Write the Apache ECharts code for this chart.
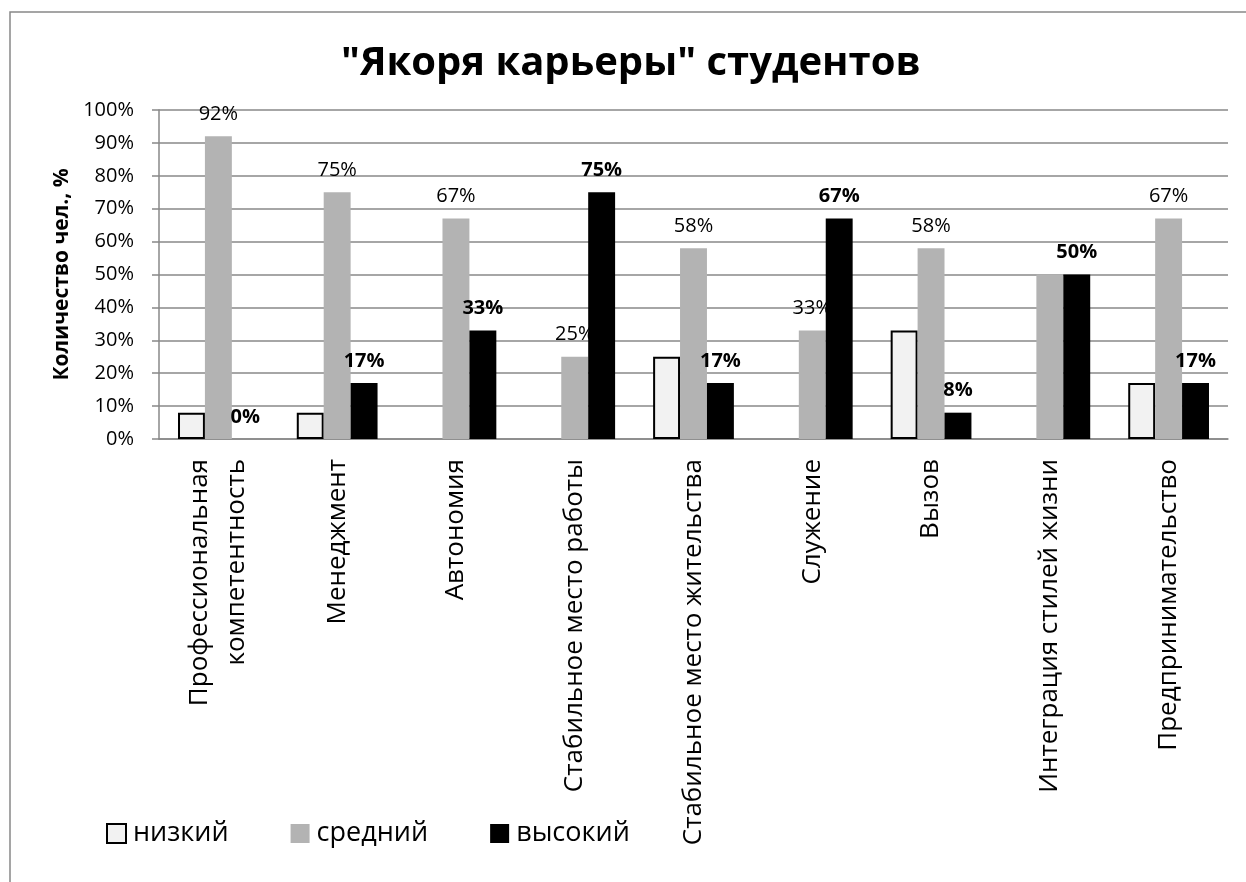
<!DOCTYPE html>
<html>
<head>
<meta charset="utf-8">
<script src="https://cdn.jsdelivr.net/npm/echarts@6/dist/echarts.min.js"></script>
<style>
  html, body { margin: 0; padding: 0; background: #fff; }
  #chart { width: 1246px; height: 882px; }
</style>
</head>
<body>
<div id="chart"></div>
<script>
const categories = [
  'Профессиональная\nкомпетентность',
  'Менеджмент',
  'Автономия',
  'Стабильное место работы',
  'Стабильное место жительства',
  'Служение',
  'Вызов',
  'Интеграция стилей жизни',
  'Предпринимательство'
];
const seriesNames = ['низкий', 'средний', 'высокий'];
const lowValues = [8, 8, 0, 0, 25, 0, 33, 0, 17];
const midValues = [92, 75, 67, 25, 58, 33, 58, 50, 67];
const highValues = [0, 17, 33, 75, 17, 67, 8, 50, 17];
const hiddenMidLabels = [7];
const yTicks = { min: 0, max: 100, interval: 10 };

const FONT = 'Open Sans';
const chart = echarts.init(document.getElementById('chart'));

const lowData = lowValues.map(v => v === 0
  ? { value: v, itemStyle: { borderWidth: 0 } } : v);
const midData = midValues.map((v, i) => hiddenMidLabels.includes(i)
  ? { value: v, label: { show: false } } : v);

chart.setOption({
  backgroundColor: '#ffffff',
  animation: false,
  textStyle: { fontFamily: FONT, color: '#000' },
  graphic: [{
    type: 'rect',
    shape: { x: 10, y: 12, width: 1400, height: 1000 },
    style: { fill: 'none', stroke: '#888', lineWidth: 1.5 },
    silent: true,
    z: -10
  }],
  title: {
    text: '"Якоря карьеры" студентов',
    left: 336,
    top: 39,
    textStyle: { fontFamily: FONT, fontSize: 40, fontWeight: 'bold', color: '#000' }
  },
  legend: {
    data: seriesNames,
    left: 101,
    top: 815,
    icon: 'rect',
    itemWidth: 19,
    itemHeight: 19,
    itemGap: 62,
    textStyle: { fontFamily: FONT, fontSize: 27, color: '#000', padding: [0, 0, 0, 2] }
  },
  grid: { left: 159, right: 18, top: 110, bottom: 443, containLabel: false },
  xAxis: {
    type: 'category',
    data: categories,
    axisLine: { lineStyle: { color: '#888', width: 1.5 } },
    axisTick: { show: false },
    axisLabel: {
      rotate: 90,
      margin: 20,
      fontFamily: FONT,
      fontSize: 26,
      color: '#000',
      lineHeight: 37,
      interval: 0
    }
  },
  yAxis: {
    type: 'value',
    min: yTicks.min,
    max: yTicks.max,
    interval: yTicks.interval,
    name: 'Количество чел., %',
    nameLocation: 'middle',
    nameRotate: 90,
    nameGap: 86,
    nameTextStyle: { fontFamily: FONT, fontSize: 21, fontWeight: 'bold', color: '#000' },
    axisLine: { show: true, lineStyle: { color: '#888', width: 1.5 } },
    axisTick: { show: true, length: 7, lineStyle: { color: '#888', width: 1.5 } },
    splitLine: { lineStyle: { color: '#888', width: 1.5 } },
    axisLabel: {
      formatter: '{value}%',
      margin: 25,
      fontFamily: FONT,
      fontSize: 20,
      color: '#000'
    }
  },
  series: [
    {
      name: seriesNames[0],
      type: 'bar',
      z: 2,
      data: lowData,
      barGap: '0%',
      barCategoryGap: '32%',
      itemStyle: { color: '#f2f2f2', borderColor: '#000', borderWidth: 2 },
      label: { show: false }
    },
    {
      name: seriesNames[1],
      type: 'bar',
      z: 2,
      data: midData,
      barGap: '0%',
      barCategoryGap: '32%',
      itemStyle: { color: '#b3b3b3' },
      label: {
        show: true, position: 'top', distance: 12,
        formatter: '{c}%', fontFamily: FONT, fontSize: 20, color: '#000'
      }
    },
    {
      name: seriesNames[2],
      type: 'bar',
      z: 3,
      data: highValues,
      barGap: '0%',
      barCategoryGap: '32%',
      itemStyle: { color: '#000' },
      label: {
        show: true, position: 'top', distance: 12,
        formatter: '{c}%', fontFamily: FONT, fontSize: 20, fontWeight: 'bold', color: '#000'
      }
    }
  ]
});
</script>
</body>
</html>
